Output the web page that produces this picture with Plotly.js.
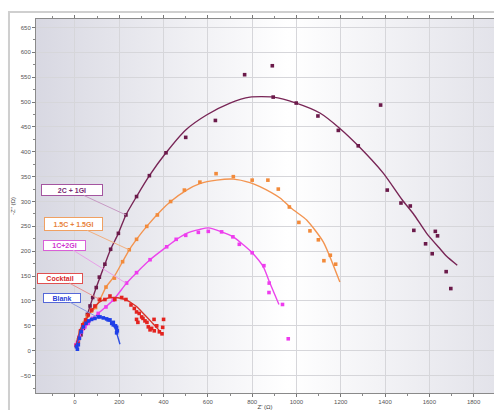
<!DOCTYPE html>
<html>
<head>
<meta charset="utf-8">
<script src="https://cdn.plot.ly/plotly-3.0.1.min.js"></script>
<style>
html,body{margin:0;padding:0;background:#fff;overflow:hidden;}
#chart{width:494px;height:410px;}
</style>
</head>
<body>
<div id="chart"></div>
<script>
// ---- Data (Z' in Ω, -Z'' in Ω) ----
const seriesNames = ["2C + 1GI", "1.5C + 1.5GI", "1C+2GI", "Cocktail", "Blank"];

const c2_x = [5,15,27,38,48,56,68,80,96,110,135,161,196,230,278,336,411,500,634,766,891,895,999,1097,1189,1279,1380,1410,1472,1514,1530,1627,1637,1583,1613,1676,1697];
const c2_y = [11,18,32,45,58,73,90,107,127,148,174,204,236,273,310,352,398,429,463,555,573,510,498,472,443,412,494,323,297,291,242,240,231,215,195,159,125];
const c2fit_x = [5,27,56,96,135,161,196,230,278,336,411,500,594,700,790,895,999,1106,1196,1279,1392,1478,1527,1588,1648,1678,1726];
const c2fit_y = [11,32,73,127,174,204,236,273,310,352,398,444,474,498,510,510,498,478,447,412,357,303,276,236,205,190,172];

const c15_x = [7,15,25,40,56,75,93,113,140,178,215,245,278,324,372,432,494,564,637,715,800,871,918,968,1011,1061,1099,1124,1153,1177];
const c15_y = [11,22,38,55,70,80,87,103,128,146,179,203,224,250,273,300,323,339,356,350,343,343,325,289,258,241,223,181,192,174];
const c15fit_x = [5,20,50,93,113,140,178,215,245,278,324,391,432,504,564,640,715,790,835,926,978,1046,1121,1196];
const c15fit_y = [10,30,65,87,103,128,150,179,203,224,250,283,300,323,336,343,345,338,330,307,286,263,219,138];

const c1_x = [5,12,20,30,45,60,80,105,140,173,233,278,339,414,457,500,557,602,662,713,742,800,853,877,876,937,963];
const c1_y = [12,18,28,38,48,55,65,75,88,102,136,157,183,209,224,232,238,240,239,229,214,197,171,136,117,93,24];
const c1fit_x = [5,26,60,105,173,233,278,339,414,459,504,564,602,662,715,760,800,850,880,921];
const c1fit_y = [10,35,55,75,102,136,157,183,209,224,236,244,247,239,229,213,197,169,136,93];

const ck_x = [7,12,18,25,35,48,60,75,90,110,135,158,180,211,230,253,268,278,290,301,307,316,325,278,284,331,339,346,357,369,381,393,396,400,358];
const ck_y = [10,15,25,40,52,62,72,82,90,103,103,110,103,107,103,92,85,78,75,68,65,60,57,63,57,48,42,45,63,50,38,34,47,63,40];
const ckfit_x = [5,10,23,38,53,70,90,108,128,150,181,210,233,255,278,300,324,345,361,378,393];
const ckfit_y = [10,20,42,55,65,78,89,97,102,106,107,105,102,96,89,79,68,58,50,42,33];

const bl_x = [7,11,15,20,28,38,50,62,75,90,103,113,128,143,150,158,166,173,173,183,188,191,188];
const bl_y = [8,3,12,25,38,48,55,60,63,65,68,68,66,64,62,62,55,57,52,50,47,40,36];
const blfit_x = [5,15,23,35,50,65,83,100,113,130,150,165,181,192,203];
const blfit_y = [10,22,38,47,54,60,64,67,67,66,63,57,45,30,13];

// anchor points of the label leader lines (on each curve)
const labelX = [230, 244, 230, 108, 99];
const labelY = [273, 203, 136, 104, 68];

const xTickVals = [0,200,400,600,800,1000,1200,1400,1600,1800];
const yTickVals = [-50,0,50,100,150,200,250,300,350,400,450,500,550,600,650];

// ---- styles ----
const cols = {
  c2: "#6b1a4a", c2line: "#782556",
  c15: "#f28a3a", c15line: "#f39450",
  c1: "#ee3cee", c1line: "#ec44ec",
  ck: "#e3231f", ckline: "#d8352c",
  bl: "#2040e8", blline: "#3050e0"
};

function pts(x, y, c) {
  return {x: x, y: y, type: "scatter", mode: "markers", showlegend: false,
          marker: {color: c, size: 3.6, symbol: "square"}, hoverinfo: "x+y"};
}
function fit(x, y, c) {
  return {x: x, y: y, type: "scatter", mode: "lines", showlegend: false,
          line: {color: c, width: 1.4, shape: "spline", smoothing: 0.6}, hoverinfo: "skip"};
}

const data = [
  fit(c2fit_x, c2fit_y, cols.c2line), pts(c2_x, c2_y, cols.c2),
  fit(c15fit_x, c15fit_y, cols.c15line), pts(c15_x, c15_y, cols.c15),
  fit(c1fit_x, c1fit_y, cols.c1line), pts(c1_x, c1_y, cols.c1),
  fit(ckfit_x, ckfit_y, cols.ckline), pts(ck_x, ck_y, cols.ck),
  fit(blfit_x, blfit_y, cols.blline), pts(bl_x, bl_y, cols.bl)
];

const labelStyle = [
  {text: "#7a2a74", border: "#a455a0", arrow: "#c79ac4", ax: -54, ay: -25, w: 58, h: 8},
  {text: "#e8823a", border: "#f0a062", arrow: "#f2b080", ax: -56, ay: -26, w: 55, h: 10},
  {text: "#d035d0", border: "#d860d8", arrow: "#e8a0e8", ax: -61, ay: -38, w: 39, h: 7},
  {text: "#d8282a", border: "#e05050", arrow: "#e89090", ax: -39, ay: -21, w: 42, h: 7},
  {text: "#2a40d8", border: "#5568d8", arrow: "#8d9ae0", ax: -35, ay: -19, w: 34, h: 6}
];

const annotations = seriesNames.map((n, i) => ({
  x: labelX[i], y: labelY[i], xref: "x", yref: "y",
  text: "<b>" + n + "</b>", showarrow: true, arrowhead: 0, arrowwidth: 1,
  arrowcolor: labelStyle[i].arrow,
  ax: labelStyle[i].ax, ay: labelStyle[i].ay,
  bgcolor: "#ffffff", bordercolor: labelStyle[i].border, borderwidth: 1, borderpad: 1,
  width: labelStyle[i].w, height: labelStyle[i].h,
  font: {family: "Liberation Sans, Arial, sans-serif", size: 7, color: labelStyle[i].text}
}));

const gradSvg = "<svg xmlns='http://www.w3.org/2000/svg' width='100' height='100' preserveAspectRatio='none'>" +
  "<defs><linearGradient id='g' x1='0' y1='0' x2='1' y2='0'>" +
  "<stop offset='0' stop-color='#d8d8e2'/><stop offset='0.55' stop-color='#ffffff'/>" +
  "<stop offset='1' stop-color='#e3e3ea'/></linearGradient></defs>" +
  "<rect width='100' height='100' fill='url(#g)'/></svg>";
const gradUri = "data:image/svg+xml;charset=utf-8," + encodeURIComponent(gradSvg);

const axisCommon = {
  showgrid: true, gridcolor: "#d6d6da", gridwidth: 1,
  zeroline: false, showline: true, linecolor: "#8a8a8a", linewidth: 1,
  mirror: "ticks", ticks: "outside", ticklen: 3, tickcolor: "#777",
  tickfont: {family: "Liberation Sans, Arial, sans-serif", size: 6, color: "#555"}
};

const layout = {
  width: 494, height: 410,
  margin: {l: 36, r: 0, t: 19, b: 17, pad: 0},
  paper_bgcolor: "#ffffff",
  plot_bgcolor: "rgba(0,0,0,0)",
  showlegend: false,
  xaxis: Object.assign({}, axisCommon, {
    range: [-176, 1892], tickvals: xTickVals,
    minor: {dtick: 100, tick0: 0, ticks: "outside", ticklen: 2, tickcolor: "#888", showgrid: false},
    title: {text: "Z' (Ω)", standoff: 2, font: {family: "Liberation Sans, Arial, sans-serif", size: 6, color: "#444"}}
  }),
  yaxis: Object.assign({}, axisCommon, {
    range: [-85, 667], tickvals: yTickVals,
    minor: {dtick: 25, tick0: 0, ticks: "outside", ticklen: 2, tickcolor: "#888", showgrid: false},
    title: {text: "-Z'' (Ω)", standoff: 4, font: {family: "Liberation Sans, Arial, sans-serif", size: 6, color: "#444"}}
  }),
  images: [{source: gradUri, xref: "paper", yref: "paper", x: 0, y: 1, sizex: 1, sizey: 1,
            sizing: "stretch", xanchor: "left", yanchor: "top", layer: "below"}],
  shapes: [{type: "rect", xref: "paper", yref: "paper", x0: -0.059, x1: 1.2, y0: -0.2, y1: 1.0187,
            line: {color: "#cfcfcf", width: 2}, fillcolor: "rgba(0,0,0,0)", layer: "below"}],
  annotations: annotations
};

Plotly.newPlot("chart", data, layout, {displayModeBar: false, staticPlot: true});
</script>
</body>
</html>
